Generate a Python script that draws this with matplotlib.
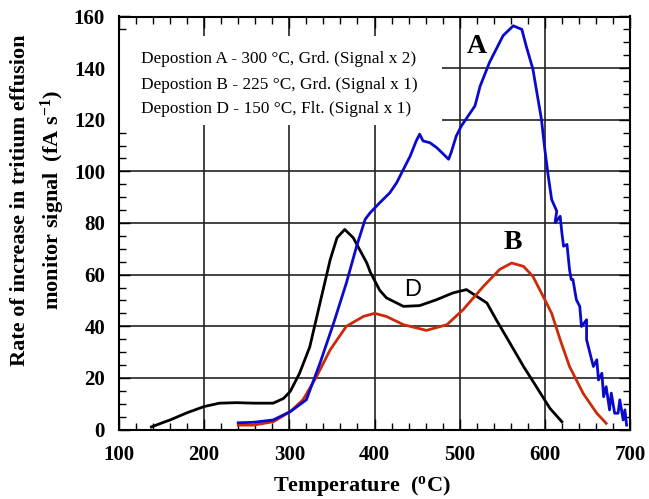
import matplotlib
matplotlib.use("Agg")
import matplotlib.pyplot as plt
from matplotlib.patches import Rectangle
from matplotlib.ticker import MultipleLocator

plt.rcParams['font.family'] = ['Liberation Serif', 'DejaVu Serif']
plt.rcParams['mathtext.fontset'] = 'custom'
plt.rcParams['mathtext.rm'] = 'Liberation Serif'
plt.rcParams['mathtext.bf'] = 'Liberation Serif:bold'
plt.rcParams['mathtext.it'] = 'Liberation Serif:italic'

# ---- data ----
temp_D = [138, 150, 160, 180, 200, 218, 238, 258, 281, 293, 301, 312, 324, 336, 348, 356,
          365, 375, 391, 395, 406, 414, 434, 453, 473, 492, 508, 520, 532, 543, 559, 575,
          590, 606, 620]
sig_D = [1.0, 2.5, 3.7, 6.5, 8.9, 10.2, 10.4, 10.2, 10.2, 12.0, 14.7, 21.8, 32.0, 49.0, 65.8, 74.3,
         77.5, 74.3, 64.5, 61.0, 54.0, 51.0, 47.7, 48.0, 50.3, 52.9, 54.2, 51.6, 49.0, 42.5, 33.5, 24.4,
         16.6, 8.2, 3.0]

temp_B = [240, 258, 281, 301, 316, 332, 348, 367, 387, 400, 414, 434, 461, 485, 504, 528,
          547, 561, 575, 586, 598, 608, 618, 629, 645, 661, 672]
sig_B = [1.7, 1.7, 3.0, 6.9, 11.5, 20.5, 30.9, 40.0, 43.8, 45.0, 43.8, 40.6, 38.4, 40.6, 46.4, 55.5,
         62.0, 64.5, 63.2, 59.3, 51.6, 45.0, 34.8, 24.4, 14.0, 6.3, 2.4]

temp_A = [240, 258, 281, 301, 320, 336, 352, 367, 379, 389, 395, 406, 418, 426, 434, 442,
          449, 453, 457, 465, 473, 479, 487, 490, 496, 502, 510, 518, 524, 535, 551, 563,
          573, 578, 586, 590, 596, 600, 604, 608, 614, 612, 618, 620, 622, 626, 629, 631,
          633, 637, 641, 643, 649, 649, 653, 657, 661, 663, 667, 669, 672, 676, 678, 682,
          686, 688, 692, 694, 696]
sig_A = [2.6, 2.8, 3.7, 6.9, 11.5, 25.7, 41.2, 56.8, 71.0, 81.4, 84.0, 87.8, 91.7, 95.6, 100.8, 106.0,
         111.8, 114.4, 111.8, 111.1, 109.2, 107.3, 104.7, 107.3, 113.7, 117.6, 121.5, 125.4, 133.0, 142.2, 152.6, 156.4,
         155.0, 148.7, 139.6, 131.8, 120.2, 108.5, 98.2, 89.1, 84.6, 80.1, 82.6, 76.2, 71.0, 71.7, 61.9, 58.1,
         58.1, 50.3, 47.7, 39.9, 42.5, 34.8, 29.6, 24.4, 27.0, 19.2, 21.8, 12.7, 16.6, 7.6, 14.1, 6.3,
         6.3, 11.5, 3.7, 7.6, 1.7]

legend_lines = ["Depostion A - 300 \u00b0C, Grd. (Signal x 2)",
                "Depostion B - 225 \u00b0C, Grd. (Signal x 1)",
                "Depostion D - 150 \u00b0C, Flt. (Signal x 1)"]
x_ticks = [100, 200, 300, 400, 500, 600, 700]
y_ticks = [0, 20, 40, 60, 80, 100, 120, 140, 160]

fig = plt.figure(figsize=(6.49, 4.99), dpi=100)
ax = fig.add_axes([119/649, 1-429.5/499, (630-119)/649, (429.5-16.5)/499])

ax.plot(temp_D, sig_D, color='black', lw=2.0, zorder=3)
ax.plot(temp_B, sig_B, color='#cc2a0a', lw=2.0, zorder=3)
ax.plot(temp_A, sig_A, color='#0a0acc', lw=2.0, zorder=4)

ax.set_xlim(100, 700)
ax.set_ylim(0, 160)
ax.set_xticks(x_ticks)
ax.set_yticks(y_ticks)
ax.xaxis.set_minor_locator(MultipleLocator(20))
ax.yaxis.set_minor_locator(MultipleLocator(5))
ax.set_axisbelow(True)
ax.grid(True, which='major', color='#222222', lw=1.2)
ax.tick_params(which='both', direction='in', top=True, right=True, width=1.0)
ax.tick_params(which='major', length=8)
ax.tick_params(which='minor', length=5)
ax.tick_params(axis='x', pad=11, labelsize=15)
ax.tick_params(axis='y', pad=10, labelsize=15)
for lbl in ax.get_xticklabels() + ax.get_yticklabels():
    lbl.set_fontweight('bold')
for s in ax.spines.values():
    s.set_linewidth(1.5)

# white box behind legend text
ax.add_patch(Rectangle((101, 118), 378, 34.5, facecolor='white', edgecolor='none', zorder=1.5))
for i, t in enumerate(legend_lines):
    ax.text(125.8, [143.4, 133.4, 124.1][i], t, fontsize=12.4, va='center', ha='left', zorder=2)

ax.text(520, 148.5, 'A', fontsize=20, fontweight='bold', ha='center', va='center', zorder=5)
ax.text(562, 72.4, 'B', fontsize=20, fontweight='bold', ha='center', va='center', zorder=5)
ax.text(445, 54, 'D', fontsize=17, family='Liberation Sans', ha='center', va='center', zorder=5)

fig.text(362/649, 1-486/499, r'Temperature  ($\mathbf{^{o}}$C)', fontsize=16, fontweight='bold',
         ha='center', va='center')
fig.text(38.5/649, 1-200/499, 'Rate of increase in tritium effusion\n' + r'monitor signal  (fA s$\mathbf{^{-1}}$)',
         fontsize=16, fontweight='bold', rotation=90, ha='center', va='center',
         multialignment='center', linespacing=1.45)

fig.savefig('out.png', dpi=100)
